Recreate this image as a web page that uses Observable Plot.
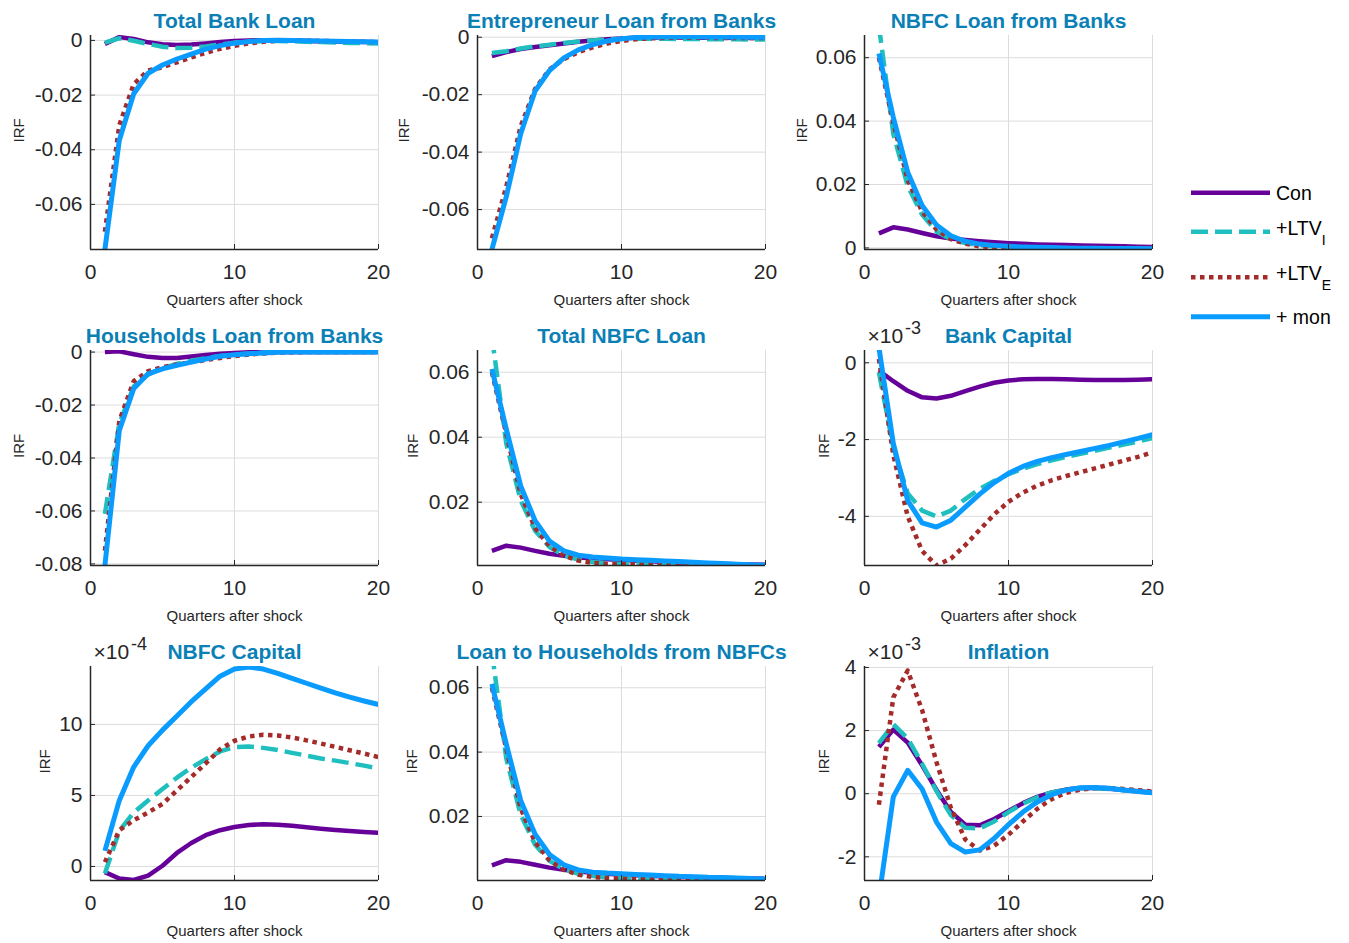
<!DOCTYPE html>
<html><head><meta charset="utf-8">
<script src="https://cdn.jsdelivr.net/npm/d3@7"></script>
<script src="https://cdn.jsdelivr.net/npm/@observablehq/plot@0.6"></script>
<style>
html,body{margin:0;padding:0;background:#fff;}
#chart{position:relative;width:1349px;height:943px;overflow:hidden;font-family:"Liberation Sans",Arial,sans-serif;}
.panel{position:absolute;}
</style></head><body><div id="chart"></div>
<script>
// ---------------- data ----------------
const quarters = [1,2,3,4,5,6,7,8,9,10,11,12,13,14,15,16,17,18,19,20];
const seriesNames = ["Con", "+LTV_I", "+LTV_E", "+ mon"];
const panelTitles = ["Total Bank Loan","Entrepreneur Loan from Banks","NBFC Loan from Banks",
  "Households Loan from Banks","Total NBFC Loan","Bank Capital",
  "NBFC Capital","Loan to Households from NBFCs","Inflation"];
const xTicks = [0, 10, 20];
const xLabel = "Quarters after shock";
const yLabel = "IRF";

// Total Bank Loan
const tbl_con  = [-0.0013,0.0012,0.0005,-0.0007,-0.0014,-0.0017,-0.0015,-0.0011,-0.0006,-0.0002,0.0000,0.0001,0.0001,0.0000,-0.0002,-0.0003,-0.0004,-0.0005,-0.0006,-0.0007];
const tbl_ltvI = [-0.0008,0.0008,-0.0001,-0.0013,-0.0023,-0.0028,-0.0027,-0.0022,-0.0015,-0.0008,-0.0004,-0.0002,-0.0002,-0.0003,-0.0005,-0.0006,-0.0008,-0.0009,-0.0010,-0.0011];
const tbl_ltvE = [-0.0700,-0.0310,-0.0160,-0.0110,-0.0098,-0.0080,-0.0062,-0.0045,-0.0031,-0.0020,-0.0011,-0.0005,-0.0001,0.0000,-0.0001,-0.0002,-0.0003,-0.0004,-0.0005,-0.0006];
const tbl_mon  = [-0.0765,-0.0365,-0.0195,-0.0120,-0.0090,-0.0068,-0.0050,-0.0032,-0.0019,-0.0010,-0.0004,0.0000,0.0001,0.0000,-0.0001,-0.0002,-0.0003,-0.0004,-0.0005,-0.0006];
const tbl_ticks = [0, -0.02, -0.04, -0.06];

// Entrepreneur Loan from Banks
const ent_con  = [-0.0066,-0.0052,-0.0041,-0.0034,-0.0028,-0.0022,-0.0016,-0.0011,-0.0007,-0.0004,-0.0002,-0.0001,-0.0001,-0.0001,-0.0002,-0.0002,-0.0002,-0.0003,-0.0003,-0.0003];
const ent_ltvI = [-0.0055,-0.0049,-0.0039,-0.0032,-0.0026,-0.0020,-0.0015,-0.0011,-0.0008,-0.0006,-0.0005,-0.0005,-0.0005,-0.0006,-0.0006,-0.0007,-0.0007,-0.0007,-0.0008,-0.0008];
const ent_ltvE = [-0.0700,-0.0520,-0.0310,-0.0180,-0.0112,-0.0076,-0.0052,-0.0035,-0.0022,-0.0013,-0.0007,-0.0004,-0.0002,-0.0002,-0.0002,-0.0002,-0.0003,-0.0003,-0.0003,-0.0003];
const ent_mon  = [-0.0739,-0.0555,-0.0336,-0.0187,-0.0116,-0.0072,-0.0044,-0.0026,-0.0013,-0.0005,-0.0001,0.0001,0.0002,0.0002,0.0002,0.0001,0.0001,0.0001,0.0000,0.0000];
const ent_ticks = [0, -0.02, -0.04, -0.06];

// NBFC Loan from Banks
const nlb_con  = [0.0046,0.0065,0.0058,0.0047,0.0037,0.0030,0.0025,0.0021,0.0018,0.0015,0.0013,0.0011,0.0010,0.0009,0.0008,0.0007,0.0006,0.0005,0.0004,0.0003];
const nlb_ltvI = [0.0700,0.0360,0.0195,0.0105,0.0052,0.0027,0.0015,0.0009,0.0005,0.0003,0.0002,0.0001,0.0000,-0.0001,-0.0001,-0.0002,-0.0002,-0.0002,-0.0003,-0.0003];
const nlb_ltvE = [0.0600,0.0395,0.0215,0.0115,0.0058,0.0028,0.0013,0.0005,0.0002,0.0001,0.0000,0.0000,0.0000,0.0000,0.0000,0.0000,0.0000,0.0000,0.0000,0.0000];
const nlb_mon  = [0.0613,0.0412,0.0239,0.0134,0.0072,0.0038,0.0021,0.0012,0.0008,0.0005,0.0003,0.0002,0.0001,0.0000,-0.0001,-0.0001,-0.0002,-0.0002,-0.0002,-0.0003];
const nlb_ticks = [0, 0.02, 0.04, 0.06];

// Households Loan from Banks
const hh_con  = [0.0000,0.0003,-0.0008,-0.0018,-0.0022,-0.0022,-0.0017,-0.0011,-0.0006,-0.0003,-0.0001,0.0000,0.0000,0.0000,0.0000,0.0000,0.0000,0.0000,0.0000,0.0000];
const hh_ltvI = [-0.0611,-0.0270,-0.0130,-0.0085,-0.0060,-0.0045,-0.0033,-0.0023,-0.0015,-0.0009,-0.0005,-0.0002,0.0000,0.0001,0.0001,0.0000,0.0000,0.0000,0.0000,0.0000];
const hh_ltvE = [-0.0750,-0.0260,-0.0110,-0.0072,-0.0057,-0.0047,-0.0038,-0.0030,-0.0022,-0.0015,-0.0009,-0.0005,-0.0002,-0.0001,0.0000,0.0000,0.0000,0.0000,0.0000,0.0000];
const hh_mon  = [-0.0806,-0.0296,-0.0138,-0.0082,-0.0063,-0.0050,-0.0038,-0.0026,-0.0016,-0.0010,-0.0006,-0.0003,-0.0001,0.0000,0.0000,0.0000,0.0000,0.0000,0.0000,0.0000];
const hh_ticks = [0, -0.02, -0.04, -0.06, -0.08];

// Total NBFC Loan
const tn_con  = [0.0050,0.0066,0.0060,0.0050,0.0041,0.0035,0.0030,0.0027,0.0024,0.0022,0.0020,0.0018,0.0016,0.0014,0.0013,0.0011,0.0010,0.0009,0.0008,0.0007];
const tn_ltvI = [0.0710,0.0380,0.0205,0.0112,0.0062,0.0036,0.0023,0.0016,0.0012,0.0010,0.0009,0.0008,0.0007,0.0007,0.0006,0.0006,0.0005,0.0005,0.0005,0.0004];
const tn_ltvE = [0.0600,0.0410,0.0225,0.0120,0.0065,0.0035,0.0020,0.0013,0.0010,0.0009,0.0008,0.0007,0.0007,0.0006,0.0006,0.0005,0.0005,0.0005,0.0004,0.0004];
const tn_mon  = [0.0610,0.0425,0.0250,0.0143,0.0080,0.0050,0.0037,0.0031,0.0028,0.0025,0.0023,0.0021,0.0019,0.0017,0.0015,0.0013,0.0011,0.0009,0.0007,0.0006];
const tn_ticks = [0.02, 0.04, 0.06];

// Bank Capital (x 10^-3)
const bc_con  = [-0.20,-0.48,-0.73,-0.90,-0.93,-0.86,-0.74,-0.62,-0.52,-0.46,-0.43,-0.42,-0.42,-0.43,-0.44,-0.45,-0.45,-0.45,-0.44,-0.43];
const bc_ltvI = [-0.25,-2.20,-3.40,-3.85,-4.00,-3.85,-3.55,-3.28,-3.08,-2.90,-2.76,-2.64,-2.54,-2.45,-2.37,-2.29,-2.21,-2.13,-2.05,-1.96];
const bc_ltvE = [0.10,-2.40,-4.00,-4.90,-5.28,-5.10,-4.75,-4.35,-3.95,-3.62,-3.38,-3.20,-3.06,-2.95,-2.85,-2.75,-2.65,-2.55,-2.45,-2.33];
const bc_mon  = [0.40,-2.10,-3.59,-4.17,-4.28,-4.10,-3.76,-3.42,-3.12,-2.88,-2.70,-2.57,-2.47,-2.39,-2.31,-2.23,-2.15,-2.06,-1.97,-1.87];
const bc_ticks = [0, -2, -4];

// NBFC Capital (x 10^-4)
const nc_con  = [-0.40,-0.85,-0.95,-0.65,0.05,0.95,1.65,2.20,2.55,2.78,2.92,2.97,2.94,2.86,2.76,2.66,2.57,2.49,2.43,2.37];
const nc_ltvI = [-0.50,2.50,3.80,4.65,5.45,6.25,6.95,7.55,8.10,8.40,8.45,8.35,8.20,8.00,7.80,7.60,7.45,7.28,7.10,6.90];
const nc_ltvE = [0.30,2.55,3.25,3.80,4.40,5.35,6.30,7.25,8.25,8.85,9.15,9.27,9.22,9.08,8.88,8.65,8.42,8.18,7.95,7.70];
const nc_mon  = [1.10,4.65,7.00,8.50,9.60,10.60,11.60,12.50,13.40,13.90,14.05,13.90,13.60,13.25,12.90,12.55,12.22,11.92,11.65,11.40];
const nc_ticks = [0, 5, 10];

// Loan to Households from NBFCs
const lhn_con  = [0.0048,0.0064,0.0059,0.0050,0.0041,0.0034,0.0029,0.0025,0.0022,0.0019,0.0017,0.0015,0.0014,0.0012,0.0011,0.0010,0.0009,0.0008,0.0007,0.0006];
const lhn_ltvI = [0.0710,0.0380,0.0205,0.0112,0.0062,0.0036,0.0022,0.0015,0.0011,0.0009,0.0008,0.0007,0.0006,0.0006,0.0005,0.0005,0.0004,0.0004,0.0003,0.0003];
const lhn_ltvE = [0.0600,0.0410,0.0225,0.0120,0.0064,0.0034,0.0019,0.0012,0.0009,0.0007,0.0006,0.0006,0.0005,0.0005,0.0004,0.0004,0.0004,0.0003,0.0003,0.0003];
const lhn_mon  = [0.0612,0.0425,0.0250,0.0145,0.0082,0.0050,0.0034,0.0027,0.0024,0.0022,0.0020,0.0018,0.0016,0.0014,0.0013,0.0011,0.0010,0.0009,0.0007,0.0006];
const lhn_ticks = [0.02, 0.04, 0.06];

// Inflation (x 10^-3)
const inf_con  = [1.48,2.03,1.62,0.90,0.12,-0.58,-0.98,-1.00,-0.80,-0.55,-0.30,-0.10,0.04,0.13,0.18,0.19,0.16,0.12,0.08,0.04];
const inf_ltvI = [1.60,2.20,1.75,0.95,0.08,-0.68,-1.08,-1.10,-0.88,-0.58,-0.32,-0.11,0.04,0.13,0.17,0.17,0.15,0.11,0.07,0.03];
const inf_ltvE = [-0.35,3.05,3.90,2.65,1.00,-0.45,-1.45,-1.80,-1.65,-1.30,-0.88,-0.48,-0.17,0.03,0.13,0.18,0.18,0.15,0.11,0.07];
const inf_mon  = [-3.30,-0.10,0.74,0.15,-0.90,-1.58,-1.85,-1.78,-1.42,-0.98,-0.58,-0.26,-0.03,0.12,0.19,0.20,0.17,0.12,0.07,0.03];
const inf_ticks = [-2, 0, 2, 4];

// ---------------- styles & layout ----------------
const seriesStyle = [
  {stroke: "#660099", width: 4.5, dash: null},
  {stroke: "#1fbfbf", width: 4.5, dash: "17,7"},
  {stroke: "#a52a2a", width: 4.5, dash: "4.5,4.5"},
  {stroke: "#0a9bff", width: 5,   dash: null}
];
const titleColor = "#0b80b6";
const ink = "#262626";
const fontFam = "'Liberation Sans', Arial, Helvetica, sans-serif";

const colFrame = [[90, 378], [477, 765], [864, 1152]];
const colSvg = [[0, 395], [395, 785], [785, 1175]];
const rowFrame = [[35, 249], [350, 565], [666, 880]];
const rowSvg = [[0, 313], [313, 628], [628, 943]];

const panels = [
  {data:[tbl_con,tbl_ltvI,tbl_ltvE,tbl_mon], ticks:tbl_ticks, domain:[-0.0765,0.0018], exp:null, irf:-71.3},
  {data:[ent_con,ent_ltvI,ent_ltvE,ent_mon], ticks:ent_ticks, domain:[-0.0739,0.0006], exp:null, irf:-73},
  {data:[nlb_con,nlb_ltvI,nlb_ltvE,nlb_mon], ticks:nlb_ticks, domain:[-0.0005,0.0670], exp:null, irf:-62.3},
  {data:[hh_con,hh_ltvI,hh_ltvE,hh_mon], ticks:hh_ticks, domain:[-0.0806,0.0006], exp:null, irf:-71.3},
  {data:[tn_con,tn_ltvI,tn_ltvE,tn_mon], ticks:tn_ticks, domain:[0.0005,0.0667], exp:null, irf:-64.5},
  {data:[bc_con,bc_ltvI,bc_ltvE,bc_mon], ticks:bc_ticks, domain:[-5.28,0.32], exp:"-3", irf:-40.2},
  {data:[nc_con,nc_ltvI,nc_ltvE,nc_mon], ticks:nc_ticks, domain:[-0.99,14.08], exp:"-4", irf:-45.3},
  {data:[lhn_con,lhn_ltvI,lhn_ltvE,lhn_mon], ticks:lhn_ticks, domain:[0.0001,0.0666], exp:null, irf:-65},
  {data:[inf_con,inf_ltvI,inf_ltvE,inf_mon], ticks:inf_ticks, domain:[-2.75,4.03], exp:"-3", irf:-40.2}
];

const chart = document.getElementById("chart");

panels.forEach((p, idx) => {
  const r = Math.floor(idx / 3), c = idx % 3;
  const [fl, fr] = colFrame[c], [sl, sr] = colSvg[c];
  const [ft, fb] = rowFrame[r], [st, sb] = rowSvg[r];
  const width = sr - sl, height = sb - st;
  const fw = fr - fl, fh = fb - ft;

  const lines = p.data.map((arr, k) => {
    const rows = quarters.map((q, i) => ({q, v: arr[i], s: seriesNames[k]}));
    const st_ = seriesStyle[k];
    return Plot.line(rows, {x: "q", y: "v", stroke: st_.stroke, strokeWidth: st_.width,
      strokeDasharray: st_.dash || undefined, strokeLinecap: "butt", strokeLinejoin: "round", clip: true});
  });

  const marks = [
    Plot.gridX(xTicks, {stroke: "#dcdcdc", strokeOpacity: 1, strokeWidth: 1}),
    Plot.gridY(p.ticks, {stroke: "#dcdcdc", strokeOpacity: 1, strokeWidth: 1}),
    ...lines,
    Plot.ruleY([p.domain[0]], {stroke: ink, strokeWidth: 1.5}),
    Plot.ruleX([0], {stroke: ink, strokeWidth: 1.5}),
    Plot.tickY(p.ticks, {y: d => d, stroke: ink, strokeWidth: 1, insetRight: fw - 5}),
    Plot.tickX(xTicks, {x: d => d, stroke: ink, strokeWidth: 1, insetTop: fh - 5}),
    Plot.axisX({ticks: xTicks, tickSize: 0, tickPadding: 15, tickFormat: d => String(d), fontSize: 21, fill: ink, label: null}),
    Plot.axisY({ticks: p.ticks, tickSize: 0, tickPadding: 8, tickFormat: d => String(d), fontSize: 21, fill: ink, label: null}),
    Plot.text([panelTitles[idx]], {text: d => d, frameAnchor: "top", lineAnchor: "bottom", dy: -7.7,
      fontSize: 21, fontWeight: "bold", fill: titleColor}),
    Plot.text([xLabel], {text: d => d, frameAnchor: "bottom", lineAnchor: "bottom", dy: 55.5, fontSize: 15, fill: ink}),
    Plot.text([yLabel], {text: d => d, frameAnchor: "left", rotate: -90, dx: p.irf, lineAnchor: "middle", fontSize: 15, fill: ink})
  ];
  if (p.exp) {
    marks.push(Plot.text(["\u00d710"], {text: d => d, frameAnchor: "top-left", textAnchor: "start", lineAnchor: "bottom",
      dx: 3, dy: -7.5, fontSize: 21, fill: ink}));
    marks.push(Plot.text([p.exp], {text: d => d, frameAnchor: "top-left", textAnchor: "start", lineAnchor: "bottom",
      dx: 40.5, dy: -17, fontSize: 18, fill: ink}));
  }

  const svg = Plot.plot({
    width, height,
    marginLeft: fl - sl, marginRight: sr - fr, marginTop: ft - st, marginBottom: sb - fb,
    x: {domain: [0, 20]},
    y: {domain: p.domain},
    style: {fontFamily: fontFam, fontSize: "21px", color: ink, background: "transparent", overflow: "visible"},
    marks
  });
  const div = document.createElement("div");
  div.className = "panel";
  div.style.left = sl + "px";
  div.style.top = st + "px";
  div.appendChild(svg);
  chart.appendChild(div);
});

// ---------------- legend ----------------
const legendY = [192.7, 231.7, 277.3, 316.7];
const leg = d3.select(chart).append("svg")
  .attr("width", 169).attr("height", 200)
  .style("position", "absolute").style("left", "1180px").style("top", "170px")
  .style("font-family", fontFam).style("overflow", "visible");
seriesNames.forEach((name, k) => {
  const y = legendY[k] - 170;
  const st_ = seriesStyle[k];
  leg.append("line").attr("x1", 11).attr("x2", 90).attr("y1", y).attr("y2", y)
    .attr("stroke", st_.stroke).attr("stroke-width", st_.width)
    .attr("stroke-dasharray", st_.dash).attr("stroke-linecap", "butt");
  const t = leg.append("text").attr("x", 96).attr("fill", "#000").attr("font-size", 19.5);
  const m = name.match(/^(.*)_(.)$/);
  if (m) {
    t.attr("y", y + 3);
    t.append("tspan").text(m[1]);
    t.append("tspan").attr("dy", 10).attr("font-size", 14).text(m[2]);
  } else {
    t.attr("y", y + 7.5).text(name);
  }
});
</script>
</body></html>
